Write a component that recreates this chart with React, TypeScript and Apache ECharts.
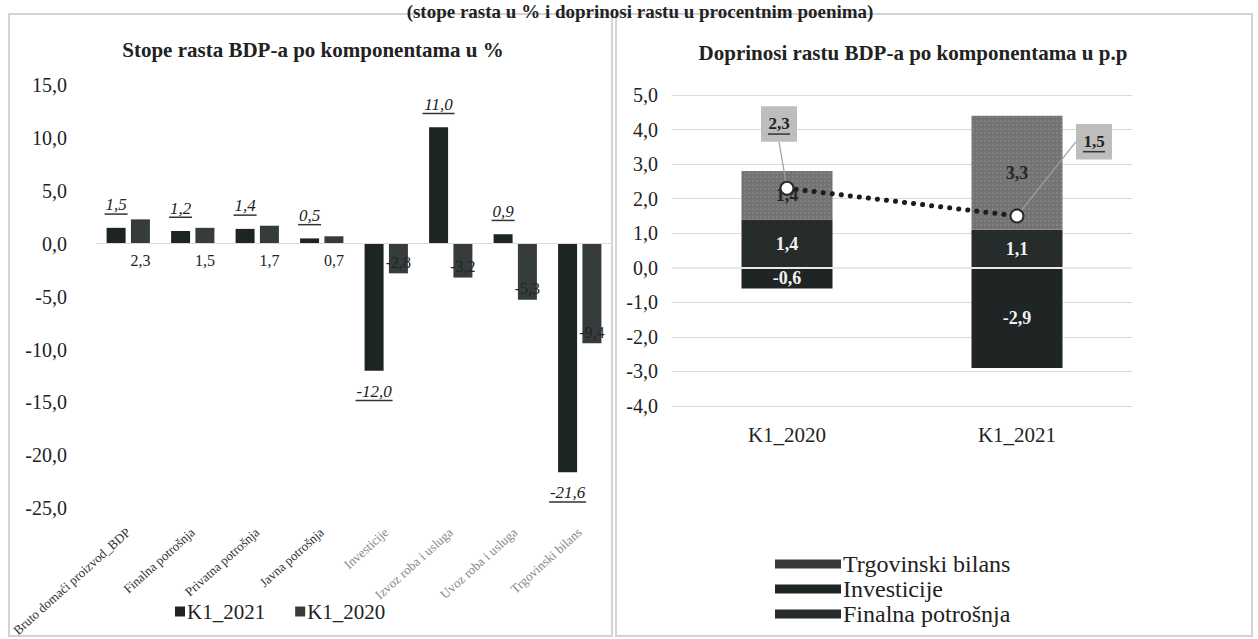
import React, { useEffect, useRef } from "react";
import * as echarts from "echarts";

// ---------- data ----------
const leftCategories = [
  "Bruto domaći proizvod_BDP",
  "Finalna potrošnja",
  "Privatna potrošnja",
  "Javna potrošnja",
  "Investicije",
  "Izvoz roba i usluga",
  "Uvoz roba i usluga",
  "Trgovinski bilans",
];
const k1_2021 = [1.5, 1.2, 1.4, 0.5, -12.0, 11.0, 0.9, -21.6];
const k1_2020 = [2.3, 1.5, 1.7, 0.7, -2.8, -3.2, -5.3, -9.4];
const leftAxis = { min: -25, max: 15, interval: 5 };

const rightCategories = ["K1_2020", "K1_2021"];
const finalnaPotrosnja = [1.4, 1.1];
const investicije = [-0.6, -2.9];
const trgovinskiBilans = [1.4, 3.3];
const bdpRast = [2.3, 1.5];
const rightAxis = { min: -4, max: 5, interval: 1 };

const headerText = "(stope rasta u % i doprinosi rastu u procentnim poenima)";
const leftTitle = "Stope rasta BDP-a po komponentama u %";
const rightTitle = "Doprinosi rastu BDP-a po komponentama u p.p";

// ---------- helpers ----------
const SERIF = "'Liberation Serif', 'Times New Roman', serif";
const fmt = (v: number) => v.toFixed(1).replace(".", ",");
const approxWidth = (s: string, size: number) => {
  let w = 0;
  for (const ch of s) {
    if (ch === ",") w += size * 0.25;
    else if (ch === "-") w += size * 0.33;
    else w += size * 0.5;
  }
  return Math.round(w + 2);
};

export default function App() {
  const ref = useRef<HTMLDivElement>(null);

  useEffect(() => {
    if (!ref.current) return;
    const chart = echarts.init(ref.current, undefined, { renderer: "svg" });

    const richLeft: Record<string, any> = {
      v: { fontFamily: SERIF, fontStyle: "italic", fontSize: 17, color: "#222", lineHeight: 17 },
    };
    k1_2021.forEach((v, i) => {
      richLeft["u" + i] = {
        fontSize: 1,
        lineHeight: 1.5,
        height: 1.5,
        width: approxWidth(fmt(v), 17),
        backgroundColor: "#333",
      };
    });

    const richLine = {
      v: { fontFamily: SERIF, fontWeight: "bold", fontSize: 17, color: "#222", lineHeight: 19 },
      u: { fontSize: 1, lineHeight: 1.5, height: 1.5, width: 22, backgroundColor: "#333" },
    };

    const option: any = {
      animation: false,
      backgroundColor: "#ffffff",
      textStyle: { fontFamily: SERIF },
      title: [
        {
          text: leftTitle,
          left: 308,
          top: 34,
          textAlign: "center",
          textStyle: { fontFamily: SERIF, fontSize: 21, fontWeight: "bold", color: "#222" },
        },
        {
          text: rightTitle,
          left: 908,
          top: 37,
          textAlign: "center",
          textStyle: { fontFamily: SERIF, fontSize: 21, fontWeight: "bold", color: "#222" },
        },
      ],
      legend: [
        {
          data: ["K1_2021", "K1_2020"],
          left: 170,
          top: 596,
          itemWidth: 10,
          itemHeight: 10,
          itemGap: 30,
          icon: "rect",
          textStyle: { fontFamily: SERIF, fontSize: 21, color: "#222", padding: [0, 0, 0, -3] },
        },
        {
          data: [
            { name: "Trgovinski bilans", itemStyle: { color: "#3a3a3a", decal: "none" } },
            { name: "Investicije" },
            { name: "Finalna potrošnja" },
          ],
          orient: "vertical",
          left: 770,
          top: 547,
          itemWidth: 66,
          itemHeight: 9,
          itemGap: 1,
          icon: "rect",
          textStyle: { fontFamily: SERIF, fontSize: 24, lineHeight: 24, color: "#222", padding: [0, 0, 0, -3] },
        },
      ],
      grid: [
        { left: 96, top: 85, width: 516, height: 430 },
        { left: 672, top: 95, width: 460, height: 311 },
      ],
      xAxis: [
        {
          type: "category",
          gridIndex: 0,
          data: leftCategories.map((c, i) => ({
            value: c,
            textStyle: { color: i < 4 ? "#333" : "#888" },
          })),
          axisLine: { show: false, onZero: false },
          axisTick: { show: false },
          axisLabel: { rotate: 42, margin: 22, fontSize: 13, fontFamily: SERIF, interval: 0 },
        },
        {
          type: "category",
          gridIndex: 1,
          data: rightCategories,
          axisLine: { show: false, onZero: false },
          axisTick: { show: false },
          axisLabel: { margin: 18, fontSize: 21, fontFamily: SERIF, color: "#222" },
        },
      ],
      yAxis: [
        {
          type: "value",
          gridIndex: 0,
          min: leftAxis.min,
          max: leftAxis.max,
          interval: leftAxis.interval,
          splitLine: { show: false },
          axisLine: { show: false },
          axisTick: { show: false },
          axisLabel: { formatter: (v: number) => fmt(v), fontSize: 20, margin: 29, fontFamily: SERIF, color: "#222" },
        },
        {
          type: "value",
          gridIndex: 1,
          min: rightAxis.min,
          max: rightAxis.max,
          interval: rightAxis.interval,
          splitLine: { show: true, lineStyle: { color: "#dadada", width: 1 } },
          axisLine: { show: false },
          axisTick: { show: false },
          axisLabel: { formatter: (v: number) => fmt(v), fontSize: 20, margin: 14, fontFamily: SERIF, color: "#222" },
        },
      ],
      series: [
        {
          name: "K1_2021",
          type: "bar",
          xAxisIndex: 0,
          yAxisIndex: 0,
          barWidth: 19,
          barGap: "28%",
          itemStyle: { color: "#1d2424" },
          data: k1_2021.map((v, i) => ({
            value: v,
            label: {
              show: true,
              position: v >= 0 ? "top" : "bottom",
              distance: v >= 0 ? 13 : 12,
              formatter: () => `{v|${fmt(v)}}\n{u${i}| }`,
              rich: richLeft,
            },
          })),
          markLine: {
            silent: true,
            symbol: "none",
            label: { show: false },
            lineStyle: { color: "#e2d6d6", width: 1, type: "solid" },
            data: [{ yAxis: 0 }],
          },
          z: 3,
        },
        {
          name: "K1_2020",
          type: "bar",
          xAxisIndex: 0,
          yAxisIndex: 0,
          barWidth: 19,
          itemStyle: { color: "#363c3c" },
          data: k1_2020.map((v) => ({
            value: v,
            label: {
              show: true,
              position: v >= 0 ? "bottom" : "insideBottom",
              distance: v >= 0 ? 9 : 3,
              formatter: () => fmt(v),
              fontFamily: SERIF,
              fontSize: 16,
              color: v >= 0 ? "#222" : "#202424",
              textBorderWidth: 0,
            },
          })),
          z: 3,
        },
        {
          name: "Finalna potrošnja",
          type: "bar",
          stack: "doprinos",
          xAxisIndex: 1,
          yAxisIndex: 1,
          barWidth: 91,
          itemStyle: { color: "#262b2b" },
          label: {
            show: true,
            position: "inside",
            formatter: (p: any) => fmt(p.value),
            fontFamily: SERIF,
            fontWeight: "bold",
            fontSize: 18,
            color: "#f2f2f2",
            textBorderWidth: 0,
          },
          data: finalnaPotrosnja,
        },
        {
          name: "Investicije",
          type: "bar",
          stack: "doprinos",
          xAxisIndex: 1,
          yAxisIndex: 1,
          barWidth: 91,
          itemStyle: { color: "#1f2424" },
          label: {
            show: true,
            position: "inside",
            formatter: (p: any) => fmt(p.value),
            fontFamily: SERIF,
            fontWeight: "bold",
            fontSize: 18,
            color: "#f2f2f2",
            textBorderWidth: 0,
          },
          data: investicije,
        },
        {
          name: "Trgovinski bilans",
          type: "bar",
          stack: "doprinos",
          xAxisIndex: 1,
          yAxisIndex: 1,
          barWidth: 91,
          itemStyle: {
            color: "#737373",
            decal: {
              symbol: "rect",
              symbolSize: 0.8,
              color: "rgba(165,165,165,0.45)",
              dashArrayX: [2, 2],
              dashArrayY: [2, 2],
            },
          },
          label: {
            show: true,
            position: "inside",
            formatter: (p: any) => fmt(p.value),
            fontFamily: SERIF,
            fontWeight: "bold",
            fontSize: 18,
            color: "#262626",
            textBorderWidth: 0,
          },
          data: trgovinskiBilans,
          markLine: {
            silent: true,
            symbol: "none",
            label: { show: false },
            lineStyle: { color: "#e8e8e8", width: 2, type: "solid" },
            data: [{ yAxis: 0 }],
            z: 10,
          },
        },
        {
          name: "BDP",
          type: "line",
          xAxisIndex: 1,
          yAxisIndex: 1,
          data: bdpRast,
          z: 12,
          symbol: "circle",
          symbolSize: 13,
          itemStyle: { color: "#ffffff", borderColor: "#2a2a2a", borderWidth: 2 },
          lineStyle: { color: "#1c1c1c", width: 5, type: [0.1, 9], cap: "round" },
          label: {
            show: true,
            position: "top",
            formatter: (p: any) => `{v|${fmt(p.value)}}\n{u| }`,
            rich: richLine,
            backgroundColor: "#bdbdbd",
            padding: [8, 7, 7, 7],
          },
          labelLine: { show: true, lineStyle: { color: "#a0a0a0", width: 1.2 } },
          labelLayout: (params: any) =>
            params.dataIndex === 0 ? { dx: -8, dy: -34 } : { dx: 77, dy: -44 },
        },
      ],
      graphic: [
        {
          type: "rect",
          shape: { x: 9, y: 14, width: 603, height: 622 },
          style: { fill: "none", stroke: "#d4d4d4", lineWidth: 2 },
          z: -10,
        },
        {
          type: "rect",
          shape: { x: 616, y: 14, width: 636, height: 622 },
          style: { fill: "none", stroke: "#d4d4d4", lineWidth: 2 },
          z: -10,
        },
        {
          type: "text",
          x: 640,
          y: 11,
          z: 5,
          style: {
            text: headerText,
            font: `bold 19px ${SERIF}`,
            fill: "#222",
            align: "center",
            verticalAlign: "middle",
          },
        },
      ],
    };

    chart.setOption(option);
    return () => chart.dispose();
  }, []);

  return (
    <div
      ref={ref}
      style={{ position: "absolute", left: 0, top: 0, width: 1258, height: 639, background: "#fff" }}
    />
  );
}
